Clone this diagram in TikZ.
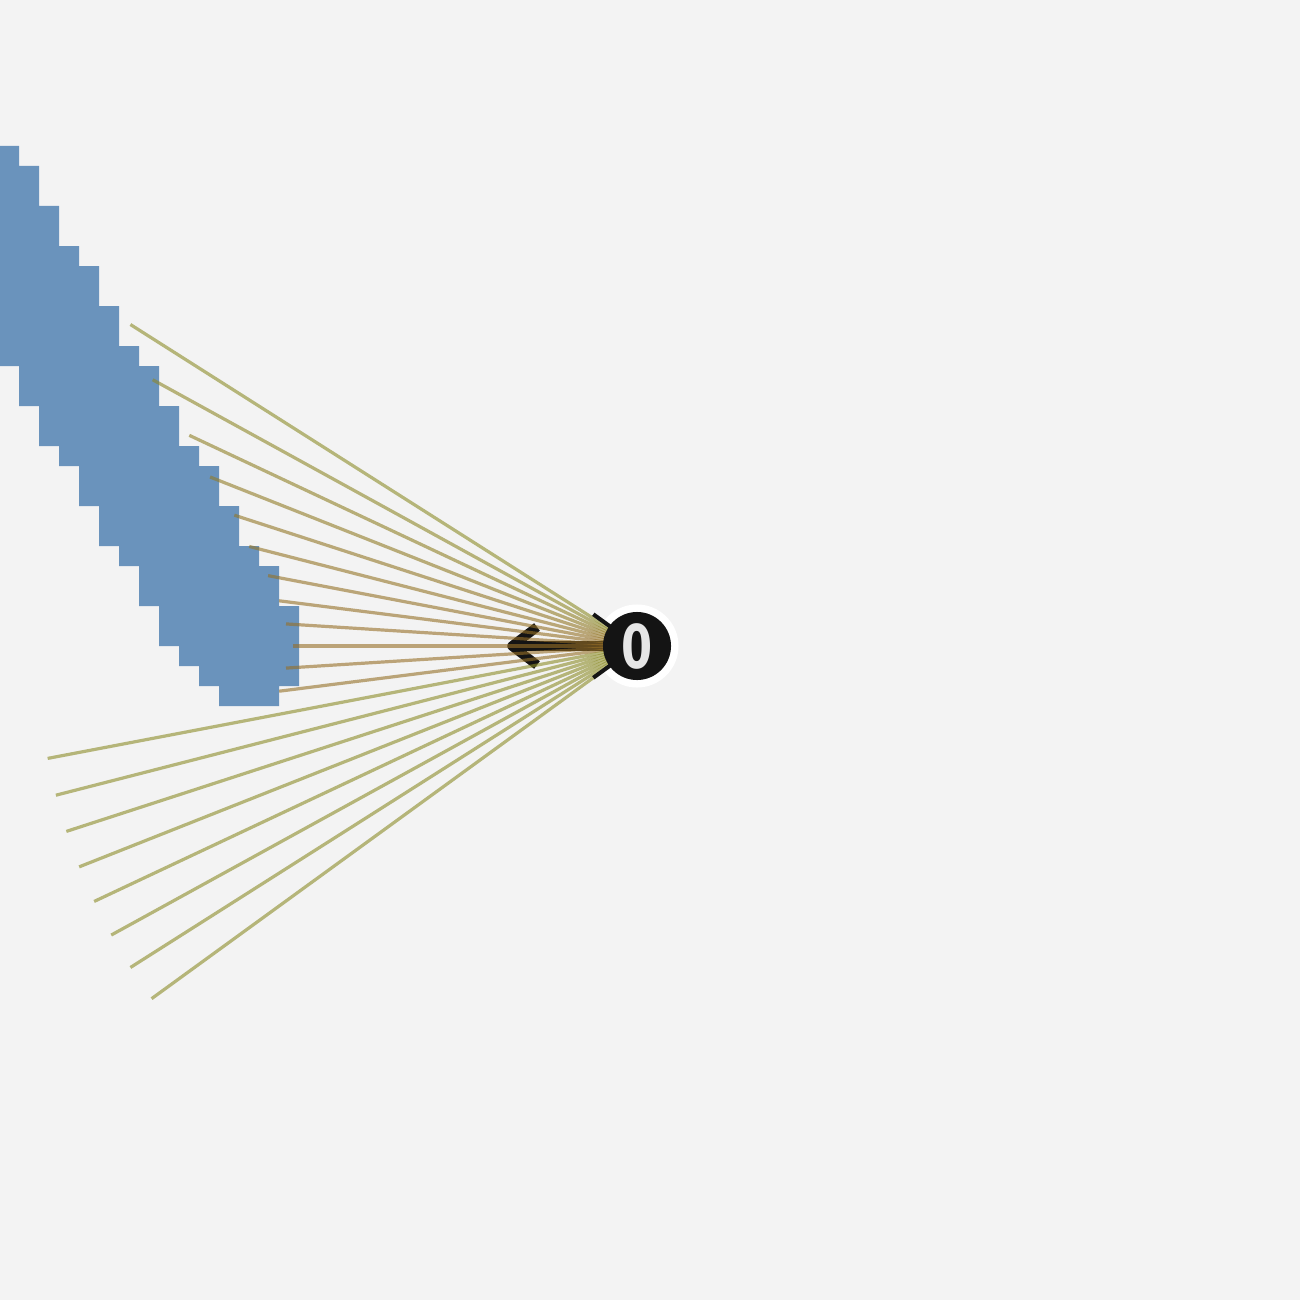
\documentclass[tikz,border=0pt]{standalone}
\usepackage{fontspec}
\newfontfamily\digitfont{DejaVu Sans}
\definecolor{bgc}{HTML}{F3F3F3}
\definecolor{wallc}{HTML}{6A93BC}
\definecolor{farc}{RGB}{140,140,40}
\definecolor{nearc}{RGB}{150,110,38}
\definecolor{agentc}{HTML}{141414}
\definecolor{labelc}{HTML}{E6E6E6}
\tikzset{
  ray/.style={line width=0.032cm, opacity=0.6},
  headingline/.style={draw=agentc, line width=0.095cm, line join=round},
  fovline/.style={draw=agentc, line width=0.04cm},
  agentdisk/.style={circle, fill=agentc, minimum size=0.68cm, inner sep=0pt},
}
\begin{document}
\begin{tikzpicture}[x=0.01cm, y=-0.01cm]
\fill[bgc] (0,0) rectangle (1300,1300);
\useasboundingbox (0,0) rectangle (1300,1300);
% wall cells
\fill[wallc] (0,146) -- (19,146) -- (19,166) -- (39,166) -- (39,206) -- (59,206)
  -- (59,246) -- (79,246) -- (79,266) -- (99,266) -- (99,306) -- (119,306)
  -- (119,346) -- (139,346) -- (139,366) -- (159,366) -- (159,406) -- (179,406)
  -- (179,446) -- (199,446) -- (199,466) -- (219,466) -- (219,506) -- (239,506)
  -- (239,546) -- (259,546) -- (259,566) -- (279,566) -- (279,606) -- (299,606)
  -- (299,686) -- (279,686) -- (279,706) -- (219,706) -- (219,686) -- (199,686)
  -- (199,666) -- (179,666) -- (179,646) -- (159,646) -- (159,606) -- (139,606)
  -- (139,566) -- (119,566) -- (119,546) -- (99,546) -- (99,506) -- (79,506)
  -- (79,466) -- (59,466) -- (59,446) -- (39,446) -- (39,406) -- (19,406)
  -- (19,366) -- (0,366) -- cycle;
\coordinate (c) at (637,646);
% white halo
\fill[white] (c) circle (0.415cm);
% heading arrow
\coordinate (tip) at (512,646);
\coordinate (barbA) at (537,627);
\coordinate (barbB) at (537,665);
\draw[headingline] (c) -- (tip);
\draw[headingline] (barbA) -- (tip) -- (barbB);
% rays
\foreach \k/\d/\p in {1/600/0, 2/552.7/18, 3/494.8/41, 4/459.2/55, 5/423.4/69,
  6/400.4/78, 7/375.6/88, 8/360.8/93, 9/351.7/97, 10/344/100, 11/351.7/97,
  12/360.7/93, 13/600/0, 14/600/0, 15/600/0, 16/600/0, 17/600/0, 18/600/0,
  19/600/0, 20/600/0}
  \draw[ray, draw=nearc!\p!farc] (c) -- ++({180-(-36+3.6*\k)}:\d);
% field of view edges
\draw[fovline] (c) -- ++(216:54);
\draw[fovline] (c) -- ++(144:54);
% agent
\node[agentdisk] (agent) at (c) {};
\node[text=labelc, font=\digitfont\bfseries\fontsize{17.2}{20}\selectfont] (agentlabel) at (c) {\scalebox{0.74}[1]{0}};
\end{tikzpicture}
\end{document}
